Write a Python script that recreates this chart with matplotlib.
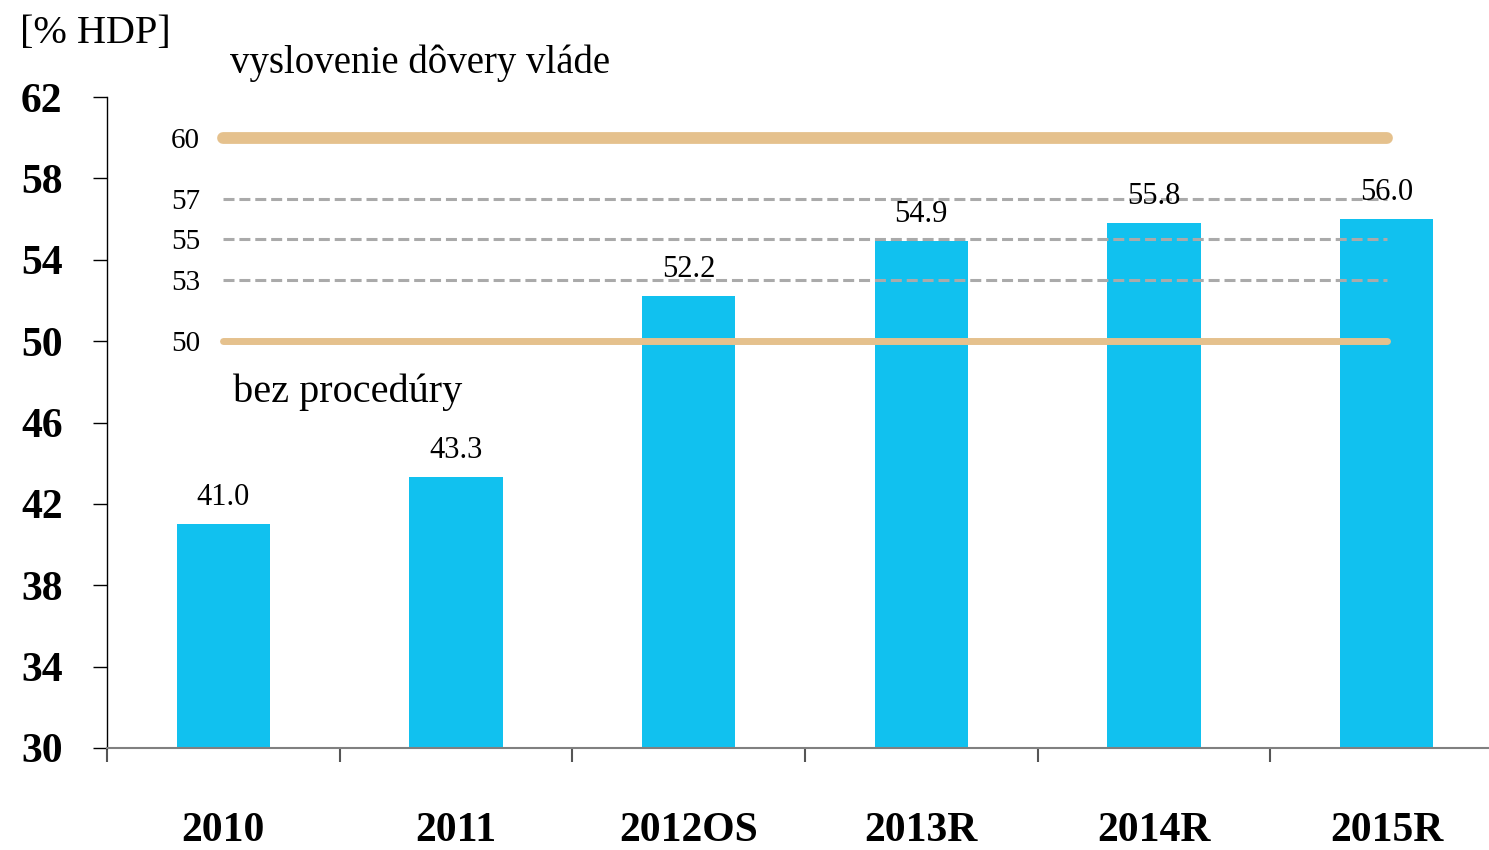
import matplotlib
matplotlib.use('Agg')
import matplotlib.pyplot as plt
import numpy as np

# data
categories = ['2010', '2011', '2012OS', '2013R', '2014R', '2015R']
debt = [41.0, 43.3, 52.2, 54.9, 55.8, 56.0]
solid_limits = [60, 50]
dashed_limits = [57, 55, 53]
y_ticks = [30, 34, 38, 42, 46, 50, 54, 58, 62]

BAR_COLOR = '#11C1EF'
LIMIT_COLOR = '#E5C18D'
DASH_COLOR = '#AAAAAA'

plt.rcParams['font.family'] = ['Liberation Serif', 'DejaVu Serif']

fig = plt.figure(figsize=(14.89, 8.5), dpi=100)
ax = fig.add_axes([107 / 1489, 1 - 748 / 850, (1489 - 107) / 1489, (748 - 97) / 850])

x = np.arange(len(categories))
ax.bar(x, debt, width=0.4, color=BAR_COLOR, zorder=2)

for xi, v in zip(x, debt):
    ax.annotate(f'{v:.1f}', (xi, v), xytext=(0, 9), textcoords='offset points',
                ha='center', va='bottom', fontsize=22, zorder=5)

# threshold lines
ax.plot([0, 5], [60, 60], color=LIMIT_COLOR, lw=8.5, solid_capstyle='round', zorder=4)
ax.plot([0, 5], [50, 50], color=LIMIT_COLOR, lw=5, solid_capstyle='round', zorder=4)
for lvl in dashed_limits:
    ax.plot([0, 5], [lvl, lvl], color=DASH_COLOR, lw=2.2, dashes=(3.6, 1.6), zorder=3)

for lvl in solid_limits + dashed_limits:
    ax.text(-0.1, lvl - 0.15, str(lvl), ha='right', va='center', fontsize=21)

ax.text(0.03, 63.2, 'vyslovenie dôvery vláde', ha='left', va='baseline',
        fontsize=28, clip_on=False)
ax.text(0.04, 47.0, 'bez procedúry', ha='left', va='baseline', fontsize=29)
fig.text(20 / 1489, 1 - 33 / 850, '[% HDP]', ha='left', va='center', fontsize=29)

ax.set_xlim(-0.5, 5.44)
ax.set_ylim(30, 62)
ax.set_yticks(y_ticks)
ax.set_yticklabels([str(t) for t in y_ticks], fontsize=30, fontweight='bold')
ax.tick_params(axis='y', direction='out', length=10, width=1, pad=22, color='black')

ax.set_xticks(x)
ax.set_xticklabels(categories, fontsize=30, fontweight='bold')
ax.set_xticks(np.arange(-0.5, 5, 1.0), minor=True)
ax.tick_params(axis='x', which='major', length=0, pad=46)
ax.tick_params(axis='x', which='minor', direction='out', length=10, width=1.5, color='#555555')

for s in ['top', 'right']:
    ax.spines[s].set_visible(False)
ax.spines['left'].set_color('black')
ax.spines['left'].set_linewidth(1)
ax.spines['bottom'].set_color('#808080')
ax.spines['bottom'].set_linewidth(1.5)

fig.savefig('out.png', dpi=100)
